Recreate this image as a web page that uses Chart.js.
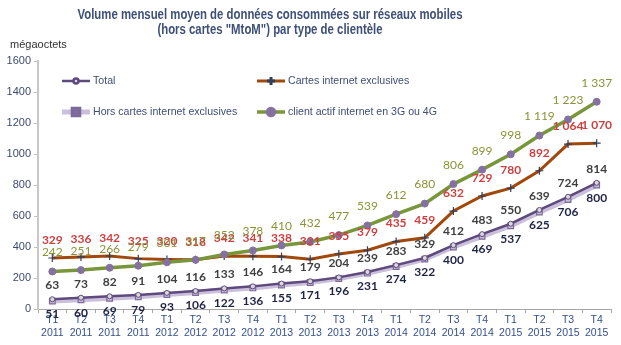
<!DOCTYPE html>
<html>
<head>
<meta charset="utf-8">
<script src="https://cdn.jsdelivr.net/npm/chart.js@4/dist/chart.umd.min.js"></script>
<style>
  html, body { margin: 0; padding: 0; background: #fff; }
  #wrap { width: 621px; height: 345px; position: relative; }
</style>
</head>
<body>
<div id="wrap"><canvas id="volume-graph" width="621" height="345"></canvas></div>
<script>
// trimestres
const quarters = ["T1","T2","T3","T4","T1","T2","T3","T4","T1","T2","T3","T4","T1","T2","T3","T4","T1","T2","T3","T4"];
const years = ["2011","2011","2011","2011","2012","2012","2012","2012","2013","2013","2013","2013","2014","2014","2014","2014","2015","2015","2015","2015"];

// séries (mégaoctets)
const total = [63, 73, 82, 91, 104, 116, 133, 146, 164, 179, 204, 239, 283, 329, 412, 483, 550, 639, 724, 814];
const cartesInternet = [329, 336, 342, 325, 320, 318, 342, 341, 338, 321, 355, 379, 435, 459, 632, 729, 780, 892, 1064, 1070];
const horsCartes = [51, 60, 69, 79, 93, 106, 122, 136, 155, 171, 196, 231, 274, 322, 400, 469, 537, 625, 706, 800];
const client3G4G = [242, 251, 266, 279, 301, 317, 352, 378, 410, 432, 477, 539, 612, 680, 806, 899, 998, 1119, 1223, 1337];

const yTicks = [0, 200, 400, 600, 800, 1000, 1200, 1400, 1600];

const labels = quarters.map((q, i) => [q, years[i]]);

function fmt(v) {
	return String(v).replace(/\B(?=(\d{3})+(?!\d))/g, " ");
}

// titre, unité, légende et étiquettes de valeurs
const extras = {
	id: "extras",
	afterDraw(chart) {
		const ctx = chart.ctx;
		ctx.save();

		// title
		ctx.fillStyle = "#3E5079";
		ctx.textAlign = "center";
		ctx.textBaseline = "middle";
		ctx.font = "bold 14px 'Liberation Sans', Arial";
		const t1 = "Volume mensuel moyen de données consommées sur réseaux mobiles";
		const t2 = "(hors cartes \"MtoM\") par type de clientèle";
		let w1 = ctx.measureText(t1).width;
		let sx = Math.min(1, 385 / w1);
		ctx.save();
		ctx.translate(270, 15);
		ctx.scale(sx, 1);
		ctx.fillText(t1, 0, 0);
		ctx.fillText(t2, 0, 15);
		ctx.restore();

		// unit
		ctx.font = "11px 'Liberation Sans', Arial";
		ctx.fillStyle = "#333";
		ctx.textAlign = "left";
		ctx.fillText("mégaoctets", 10, 45);

		// legend
		const items = [
			{ ds: 0, x: 62, y: 81, text: "Total" },
			{ ds: 1, x: 257, y: 81, text: "Cartes internet exclusives" },
			{ ds: 2, x: 62, y: 112, text: "Hors cartes internet exclusives" },
			{ ds: 3, x: 257, y: 112, text: "client actif internet en 3G ou 4G" }
		];
		ctx.font = "10.6px 'Liberation Sans', Arial";
		items.forEach(it => {
			const d = chart.data.datasets[it.ds];
			ctx.strokeStyle = d.borderColor;
			ctx.lineWidth = d.borderWidth;
			ctx.beginPath();
			ctx.moveTo(it.x, it.y);
			ctx.lineTo(it.x + 28, it.y);
			ctx.stroke();
			ctx.strokeStyle = d.pointBorderColor;
			ctx.fillStyle = d.pointBackgroundColor || d.backgroundColor;
			Chart.helpers.drawPoint(ctx, {
				pointStyle: d.pointStyle,
				radius: d.pointRadius,
				borderWidth: d.pointBorderWidth
			}, it.x + 14, it.y);
			ctx.fillStyle = "#3E4E78";
			ctx.textAlign = "left";
			ctx.fillText(it.text, it.x + 31, it.y);
		});

		// data labels
		const lab = [
			{ ds: 0, dy: -14, color: "#3F3F3F", bold: true },
			{ ds: 1, dy: -18, color: "#CC4040", bold: true },
			{ ds: 2, dy: 13, color: "#1F2447", bold: true },
			{ ds: 3, dy: -19, color: "#8A9437", bold: false }
		];
		ctx.textAlign = "center";
		lab.forEach(l => {
			ctx.font = (l.bold ? "bold " : "") + "12px Lato, 'Open Sans', sans-serif";
			ctx.fillStyle = l.color;
			const meta = chart.getDatasetMeta(l.ds);
			meta.data.forEach((p, i) => {
				const v = chart.data.datasets[l.ds].data[i];
				ctx.fillText(fmt(v), p.x, p.y + l.dy);
			});
		});
		ctx.restore();
	}
};

const ctx = document.getElementById("volume-graph");

new Chart(ctx, {
	type: "line",
	data: {
		labels: labels,
		datasets: [
			{
				label: "Total",
				data: total,
				borderColor: "#5F4A7E",
				backgroundColor: "#D9D9D9",
				borderWidth: 2.5,
				pointStyle: "circle",
				pointRadius: 2.5,
				pointBorderWidth: 1,
				pointBorderColor: "#5F4A7E",
				pointBackgroundColor: "#D9D9D9",
				order: 1
			},
			{
				label: "Cartes internet exclusives",
				data: cartesInternet,
				borderColor: "#A1480D",
				backgroundColor: "#2F3F5F",
				borderWidth: 3,
				pointStyle: "cross",
				pointRadius: 4,
				pointBorderWidth: 1.2,
				pointBorderColor: "#2F3F5F",
				order: 2
			},
			{
				label: "Hors cartes internet exclusives",
				data: horsCartes,
				borderColor: "#CBC0DC",
				backgroundColor: "#C9BCDB",
				borderWidth: 5,
				pointStyle: "rect",
				pointRadius: 4,
				pointBorderWidth: 1.2,
				pointBorderColor: "#7D6A9B",
				pointBackgroundColor: "#C9BCDB",
				order: 3
			},
			{
				label: "client actif internet en 3G ou 4G",
				data: client3G4G,
				borderColor: "#78963A",
				backgroundColor: "#8571A0",
				borderWidth: 3.5,
				pointStyle: "circle",
				pointRadius: 3.5,
				pointBorderWidth: 1,
				pointBorderColor: "#8571A0",
				pointBackgroundColor: "#8571A0",
				order: 0
			}
		]
	},
	options: {
		responsive: false,
		animation: false,
		layout: { padding: { left: 0, right: 10, top: 61, bottom: 0 } },
		plugins: {
			legend: { display: false },
			title: { display: false },
			tooltip: { enabled: false }
		},
		elements: { line: { tension: 0 } },
		scales: {
			x: {
				offset: true,
				grid: {
					offset: true,
					drawOnChartArea: false,
					tickLength: 4,
					color: "#A6A6A6"
				},
				border: { color: "#A6A6A6", width: 1 },
				ticks: {
					color: "#35508C",
					font: { size: 10.5, family: "'Liberation Sans', Arial" },
					padding: 1,
					maxRotation: 0,
					autoSkip: false
				},
				afterFit(scale) { scale.height = 36; }
			},
			y: {
				min: 0,
				max: 1600,
				afterBuildTicks(scale) { scale.ticks = yTicks.map(v => ({ value: v })); },
				grid: {
					drawOnChartArea: false,
					tickLength: 4,
					color: "#BFBFBF"
				},
				border: { color: "#C8C8C8", width: 2 },
				ticks: {
					color: "#3D4A6E",
					font: { size: 11, family: "'Liberation Sans', Arial" },
					padding: 3,
					callback: v => String(v)
				},
				afterFit(scale) { scale.width = 38; }
			}
		}
	},
	plugins: [extras]
});
</script>
</body>
</html>
